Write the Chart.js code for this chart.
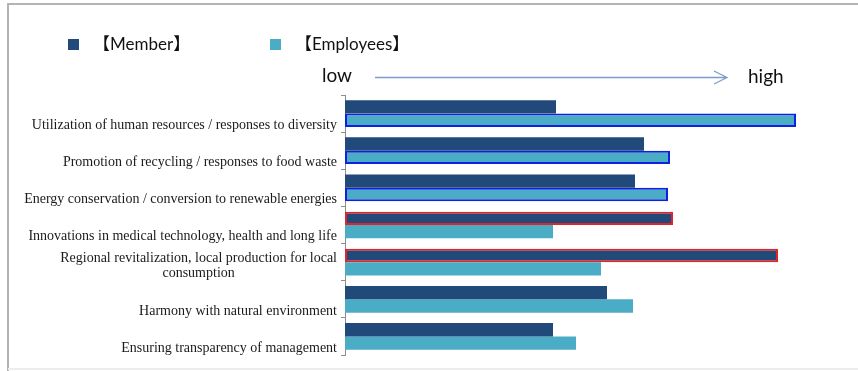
<!DOCTYPE html>
<html>
<head>
<meta charset="utf-8">
<script src="https://cdn.jsdelivr.net/npm/chart.js@4/dist/chart.umd.min.js"></script>
<style>
  html, body { margin: 0; padding: 0; background: #fff; }
  #wrap { width: 858px; height: 371px; }
</style>
</head>
<body>
<div id="wrap"><canvas id="chart" width="858" height="371"></canvas></div>
<script>
// categories (top to bottom)
const categories = [
    ['Utilization of human resources / responses to diversity'],
    ['Promotion of recycling / responses to food waste'],
    ['Energy conservation / conversion to renewable energies'],
    ['Innovations in medical technology, health and long life'],
    ['Regional revitalization, local production for local', 'consumption'],
    ['Harmony with natural environment'],
    ['Ensuring transparency of management']
];

// relative scores, low -> high
const memberValues = [42.2, 59.8, 58.0, 65.6, 86.6, 52.4, 41.6];
const employeeValues = [90.2, 65.0, 64.6, 41.6, 51.2, 57.6, 46.2];

const seriesLabels = ['【Member】', '【Employees】'];
const axisWords = ['low', 'high'];

// highlighted bars (outline)
const memberOutlined = [3, 4];
const employeeOutlined = [0, 1, 2];

const DARK = '#214a7b';
const LIGHT = '#4bacc6';
const LEGEND_FONT = '17px Lato, "Noto Sans CJK JP", sans-serif';

const decorPlugin = {
    id: 'decor',
    afterDraw(chart) {
        const ctx = chart.ctx;
        const y = chart.scales.y;
        const n = categories.length;
        const band = (y.bottom - y.top) / n;

        ctx.save();

        // outer frame
        ctx.strokeStyle = '#b4b4b4';
        ctx.lineWidth = 2;
        ctx.beginPath();
        ctx.moveTo(8, 371);
        ctx.lineTo(8, 4);
        ctx.lineTo(858, 4);
        ctx.stroke();
        ctx.strokeStyle = '#ededed';
        ctx.beginPath();
        ctx.moveTo(8, 369);
        ctx.lineTo(858, 369);
        ctx.stroke();

        // category labels, bottom aligned to band
        ctx.font = '14px "Liberation Serif", "Times New Roman", serif';
        ctx.fillStyle = '#1a1a1a';
        ctx.textBaseline = 'middle';
        const xr = y.right - 8;
        categories.forEach((lines, i) => {
            const bottom = y.getPixelForValue(i) + band / 2;
            const maxW = Math.max(...lines.map(l => ctx.measureText(l).width));
            lines.forEach((line, j) => {
                const ly = bottom - 7 - (lines.length - 1 - j) * 15;
                if (lines.length > 1) {
                    ctx.textAlign = 'center';
                    ctx.fillText(line, xr - maxW / 2, ly);
                } else {
                    ctx.textAlign = 'right';
                    ctx.fillText(line, xr, ly);
                }
            });
        });

        // legend
        ctx.font = LEGEND_FONT;
        ctx.textAlign = 'left';
        const legendX = [68, 270];
        chart.data.datasets.forEach((ds, i) => {
            ctx.fillStyle = ds.backgroundColor;
            ctx.fillRect(legendX[i], 39, 11, 11);
            ctx.fillStyle = '#111';
            ctx.fillText(ds.label, legendX[i] + 25, 45);
        });

        // low -> high arrow
        ctx.font = '19px Lato, sans-serif';
        ctx.fillStyle = '#111';
        ctx.fillText(axisWords[0], 322, 76);
        ctx.fillText(axisWords[1], 748, 77);
        ctx.strokeStyle = '#7e9ccb';
        ctx.lineWidth = 1.3;
        ctx.beginPath();
        ctx.moveTo(375, 77.5);
        ctx.lineTo(727, 77.5);
        ctx.moveTo(714, 71);
        ctx.lineTo(727, 77.5);
        ctx.lineTo(714, 84);
        ctx.stroke();

        ctx.restore();
    }
};

new Chart(document.getElementById('chart'), {
    type: 'bar',
    data: {
        labels: categories,
        datasets: [
            {
                label: seriesLabels[0],
                data: memberValues,
                backgroundColor: DARK,
                borderColor: memberValues.map((v, i) => memberOutlined.includes(i) ? '#e0242a' : DARK),
                borderWidth: memberValues.map((v, i) => memberOutlined.includes(i) ? 2 : 0),
                borderSkipped: false
            },
            {
                label: seriesLabels[1],
                data: employeeValues,
                backgroundColor: LIGHT,
                borderColor: employeeValues.map((v, i) => employeeOutlined.includes(i) ? '#1020e0' : LIGHT),
                borderWidth: employeeValues.map((v, i) => employeeOutlined.includes(i) ? 2 : 0),
                borderSkipped: false
            }
        ]
    },
    options: {
        indexAxis: 'y',
        responsive: false,
        animation: false,
        layout: { padding: { top: 95, bottom: 16, left: 0, right: 13 } },
        categoryPercentage: 0.72,
        barPercentage: 1.0,
        plugins: {
            legend: { display: false },
            tooltip: { enabled: false }
        },
        scales: {
            x: {
                display: false,
                min: 0,
                max: 100
            },
            y: {
                offset: true,
                ticks: { display: false },
                grid: {
                    offset: true,
                    drawOnChartArea: false,
                    drawTicks: true,
                    tickLength: 4,
                    color: '#8c8c8c'
                },
                border: { display: true, color: '#8c8c8c', width: 1 },
                afterFit(scale) { scale.width = 345; }
            }
        }
    },
    plugins: [decorPlugin]
});
</script>
</body>
</html>
